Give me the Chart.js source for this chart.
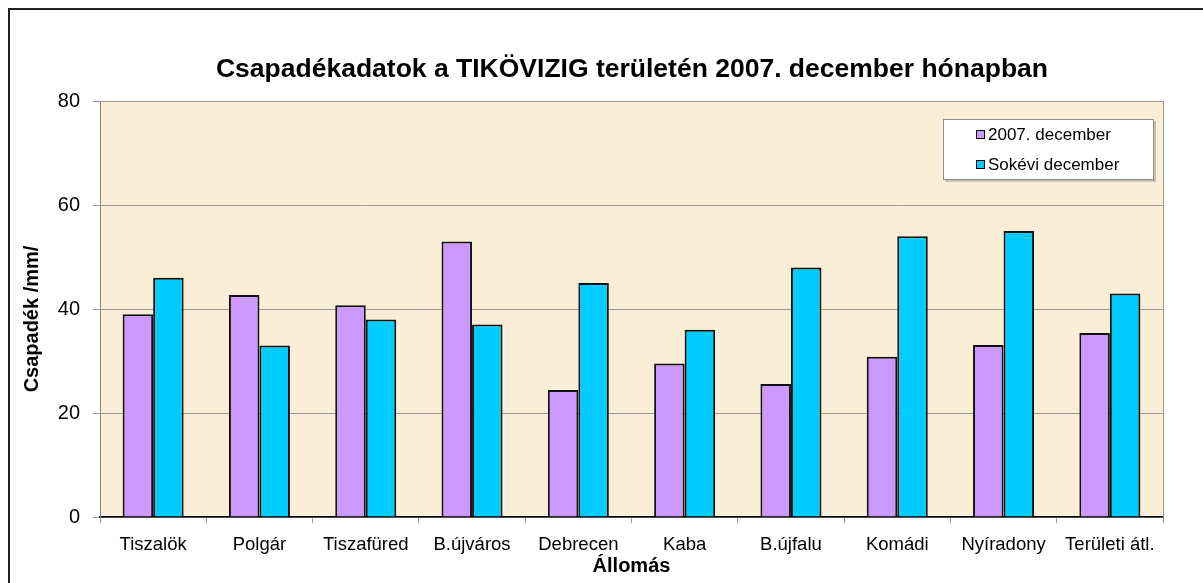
<!DOCTYPE html>
<html>
<head>
<meta charset="utf-8">
<script src="https://cdn.jsdelivr.net/npm/chart.js@4/dist/chart.umd.min.js"></script>
<style>
  html, body { margin: 0; padding: 0; background: #ffffff; }
  #wrap { position: relative; width: 1203px; height: 583px; overflow: hidden; }
  #frame { position: absolute; left: 8px; top: 8px; width: 1300px; height: 700px;
           border-left: 2px solid #222; border-top: 2px solid #222; box-sizing: border-box; }
  #c { position: absolute; left: 0; top: 0; }
  #title { position: absolute; left: 132px; width: 1000px; top: 52px; text-align: center;
           font-family: 'Liberation Sans', Arial, sans-serif; font-weight: bold; font-size: 26.5px;
           line-height: 32px; color: #000; white-space: nowrap; }
  #ytitle { position: absolute; left: 31px; top: 319px; width: 300px; height: 24px; margin-left: -150px; margin-top: -12px;
            transform: rotate(-90deg); text-align: center; line-height: 24px;
            font-family: 'Liberation Sans', Arial, sans-serif; font-weight: bold; font-size: 20px; color: #000; white-space: nowrap; }
  #legend { position: absolute; left: 943px; top: 119px; width: 209px; height: 59px;
            background: #ffffff; border: 1px solid #8c8c8c; box-shadow: 2px 2px 0 rgba(120,110,100,0.35);
            font-family: 'Liberation Sans', Arial, sans-serif; font-size: 17px; color: #000; }
  .item { position: absolute; left: 32px; height: 20px; line-height: 20px; white-space: nowrap; }
  .mark { display: inline-block; width: 7px; height: 7px; border: 1px solid #000; margin-right: 3px; vertical-align: 1px; }
</style>
</head>
<body>
<div id="wrap">
  <div id="frame"></div>
  <canvas id="c" width="1203" height="583"></canvas>
  <div id="title"></div>
  <div id="ytitle"></div>
  <div id="legend"></div>
</div>
<script>
const chartTitle = 'Csapadékadatok a TIKÖVIZIG területén 2007. december hónapban';
const yAxisTitle = 'Csapadék /mm/';
const xAxisTitle = 'Állomás';
const stations = ['Tiszalök', 'Polgár', 'Tiszafüred', 'B.újváros', 'Debrecen', 'Kaba', 'B.újfalu', 'Komádi', 'Nyíradony', 'Területi átl.'];
const seriesNames = ['2007. december', 'Sokévi december'];
const dec2007 = [39.0, 42.7, 40.7, 53.0, 24.4, 29.5, 25.6, 30.8, 33.1, 35.4];
const longTermDec = [46, 33, 38, 37, 45, 36, 48, 54, 55, 43];
const yTicks = [0, 20, 40, 60, 80];
const colors = ['#CC99FF', '#00CCFF'];

const FONT = "'Liberation Sans', Arial, sans-serif";

document.getElementById('title').textContent = chartTitle;
document.getElementById('ytitle').textContent = yAxisTitle;

const plotBg = {
  id: 'plotBg',
  beforeDraw(chart) {
    const {ctx, chartArea: a} = chart;
    ctx.save();
    ctx.fillStyle = '#FBEED6';
    ctx.fillRect(a.left, a.top, a.right - a.left, a.bottom - a.top);
    ctx.restore();
  },
  afterDatasetsDraw(chart) {
    const {ctx, chartArea: a} = chart;
    ctx.save();
    ctx.strokeStyle = '#999';
    ctx.lineWidth = 1;
    ctx.beginPath();
    ctx.moveTo(Math.round(a.right) + 0.5, a.top);
    ctx.lineTo(Math.round(a.right) + 0.5, a.bottom);
    ctx.stroke();
    ctx.restore();
  }
};

const chart = new Chart(document.getElementById('c'), {
  type: 'bar',
  data: {
    labels: stations,
    datasets: [
      { label: seriesNames[0], data: dec2007, backgroundColor: colors[0], borderColor: '#111', borderWidth: 2 },
      { label: seriesNames[1], data: longTermDec, backgroundColor: colors[1], borderColor: '#111', borderWidth: 2 }
    ]
  },
  options: {
    responsive: false,
    animation: false,
    devicePixelRatio: 1,
    layout: { padding: { top: 101, left: 0, right: 40, bottom: 0 } },
    datasets: { bar: { categoryPercentage: 0.574, barPercentage: 1.0 } },
    plugins: {
      legend: { display: false },
      tooltip: { enabled: false },
      title: { display: false }
    },
    scales: {
      x: {
        grid: { display: true, drawOnChartArea: false, drawTicks: true, tickLength: 6, color: '#999', offset: true },
        border: { display: true, color: '#000', width: 1.5 },
        ticks: { color: '#000', font: { family: FONT, size: 18.5, lineHeight: 1.2 }, padding: 11, maxRotation: 0, autoSkip: false },
        title: { display: true, text: xAxisTitle, color: '#000', font: { family: FONT, size: 20, weight: 'bold', lineHeight: 1.2 }, padding: { top: 0, bottom: 5 } },
        afterFit(scale) { scale.height = 66; }
      },
      y: {
        min: 0, max: 80,
        afterBuildTicks(scale) { scale.ticks = yTicks.map(v => ({ value: v })); },
        grid: { color: '#999', lineWidth: 1, drawTicks: true, tickLength: 7 },
        border: { display: true, color: '#888', width: 1 },
        ticks: { color: '#000', font: { family: FONT, size: 20, lineHeight: 1.2 }, padding: 13 },
        title: { display: false },
        afterFit(scale) { scale.width = 100; }
      }
    }
  },
  plugins: [plotBg]
});

// HTML legend built from the dataset names and colours
const legend = document.getElementById('legend');
seriesNames.forEach((name, i) => {
  const it = document.createElement('div');
  it.className = 'item';
  it.style.top = (5 + i * 30) + 'px';
  const m = document.createElement('span');
  m.className = 'mark';
  m.style.background = colors[i];
  it.appendChild(m);
  it.appendChild(document.createTextNode(name));
  legend.appendChild(it);
});
</script>
</body>
</html>
